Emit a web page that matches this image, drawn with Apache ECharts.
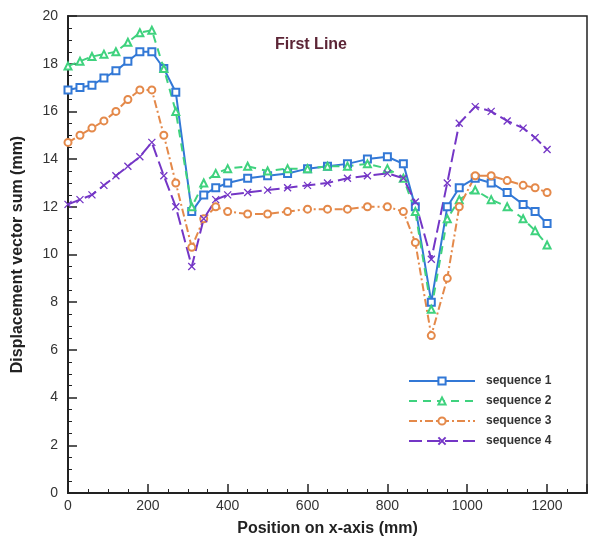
<!DOCTYPE html>
<html>
<head>
<meta charset="utf-8">
<script src="https://cdn.jsdelivr.net/npm/echarts@6/dist/echarts.min.js"></script>
<style>html,body{margin:0;padding:0;background:#fff;}#c{width:590px;height:542px;}</style>
</head>
<body>
<div id="c"></div>
<script>
var xPos = [0,30,60,90,120,150,180,210,240,270,310,340,370,400,450,500,550,600,650,700,750,800,840,870,910,950,980,1020,1060,1100,1140,1170,1200];
var seq1 = [16.9,17.0,17.1,17.4,17.7,18.1,18.5,18.5,17.8,16.8,11.8,12.5,12.8,13.0,13.2,13.3,13.4,13.6,13.7,13.8,14.0,14.1,13.8,12.0,8.0,12.0,12.8,13.2,13.0,12.6,12.1,11.8,11.3];
var seq2 = [17.9,18.1,18.3,18.4,18.5,18.9,19.3,19.4,17.8,16.0,12.0,13.0,13.4,13.6,13.7,13.5,13.6,13.6,13.7,13.7,13.8,13.6,13.2,11.8,7.7,11.5,12.3,12.7,12.3,12.0,11.5,11.0,10.4];
var seq3 = [14.7,15.0,15.3,15.6,16.0,16.5,16.9,16.9,15.0,13.0,10.3,11.5,12.0,11.8,11.7,11.7,11.8,11.9,11.9,11.9,12.0,12.0,11.8,10.5,6.6,9.0,12.0,13.3,13.3,13.1,12.9,12.8,12.6];
var seq4 = [12.1,12.3,12.5,12.9,13.3,13.7,14.1,14.7,13.3,12.0,9.5,11.5,12.3,12.5,12.6,12.7,12.8,12.9,13.0,13.2,13.3,13.4,13.2,12.2,9.8,13.0,15.5,16.2,16.0,15.6,15.3,14.9,14.4];
var seriesNames = ['sequence 1','sequence 2','sequence 3','sequence 4'];

function pairs(ys){ return xPos.map(function(x,i){ return [x, ys[i]]; }); }

var font = 'Liberation Sans, Arial, sans-serif';
var chart = echarts.init(document.getElementById('c'));
var styles = [
  {color:'#3278d6', type:'solid', symbol:'emptyRect'},
  {color:'#3fd27e', type:[8,6], symbol:'emptyTriangle'},
  {color:'#e4894a', type:[8,3,2,3], symbol:'emptyCircle'},
  {color:'#7436c6', type:[13,5], symbol:'path://M0,0L10,10M10,0L0,10'}
];
var data = [seq1, seq2, seq3, seq4];
chart.setOption({
  animation:false,
  backgroundColor:'#fff',
  title:{text:'First Line', left:270, top:32, textStyle:{fontFamily:font, fontSize:16, fontWeight:'bold', color:'#5c2536'}},
  grid:{left:68, right:2, top:16, bottom:48, show:true, borderColor:'#222', borderWidth:1.5},
  legend:{
    orient:'vertical', left:403, top:370, itemWidth:66, itemHeight:9, itemGap:8,
    data:seriesNames,
    textStyle:{fontFamily:font, fontSize:12, fontWeight:'bold', color:'#333', padding:[0,0,0,6]}
  },
  xAxis:{
    type:'value', min:0, max:1300, interval:200,
    name:'Position on x-axis (mm)', nameLocation:'middle', nameGap:28,
    nameTextStyle:{fontFamily:font, fontSize:16, fontWeight:'bold', color:'#222'},
    axisLine:{show:true, lineStyle:{color:'#222', width:2}},
    axisTick:{show:true, inside:true, length:9, lineStyle:{color:'#222', width:1.5}},
    minorTick:{show:true, splitNumber:4, length:4, lineStyle:{color:'#222'}},
    splitLine:{show:false},
    axisLabel:{fontFamily:font, fontSize:14, color:'#333', margin:6,
      formatter:function(v){ return v>1200 ? '' : v; }}
  },
  yAxis:{
    type:'value', min:0, max:20, interval:2,
    name:'Displacement vector sum (mm)', nameLocation:'middle', nameGap:42,
    nameTextStyle:{fontFamily:font, fontSize:16, fontWeight:'bold', color:'#222'},
    axisLine:{show:true, lineStyle:{color:'#222', width:2}},
    axisTick:{show:true, inside:true, length:9, lineStyle:{color:'#222', width:1.5}},
    minorTick:{show:true, splitNumber:4, length:4, lineStyle:{color:'#222'}},
    splitLine:{show:false},
    axisLabel:{fontFamily:font, fontSize:14, color:'#333', margin:10}
  },
  series: data.map(function(d,i){
    var s = styles[i];
    return {
      name:seriesNames[i], type:'line', data:pairs(d),
      symbol:s.symbol, symbolSize:7, showAllSymbol:true,
      lineStyle:{color:s.color, width:2, type:s.type},
      itemStyle:{color:s.color, borderColor:s.color, borderWidth:1.3}
    };
  })
});
</script>
</body>
</html>
